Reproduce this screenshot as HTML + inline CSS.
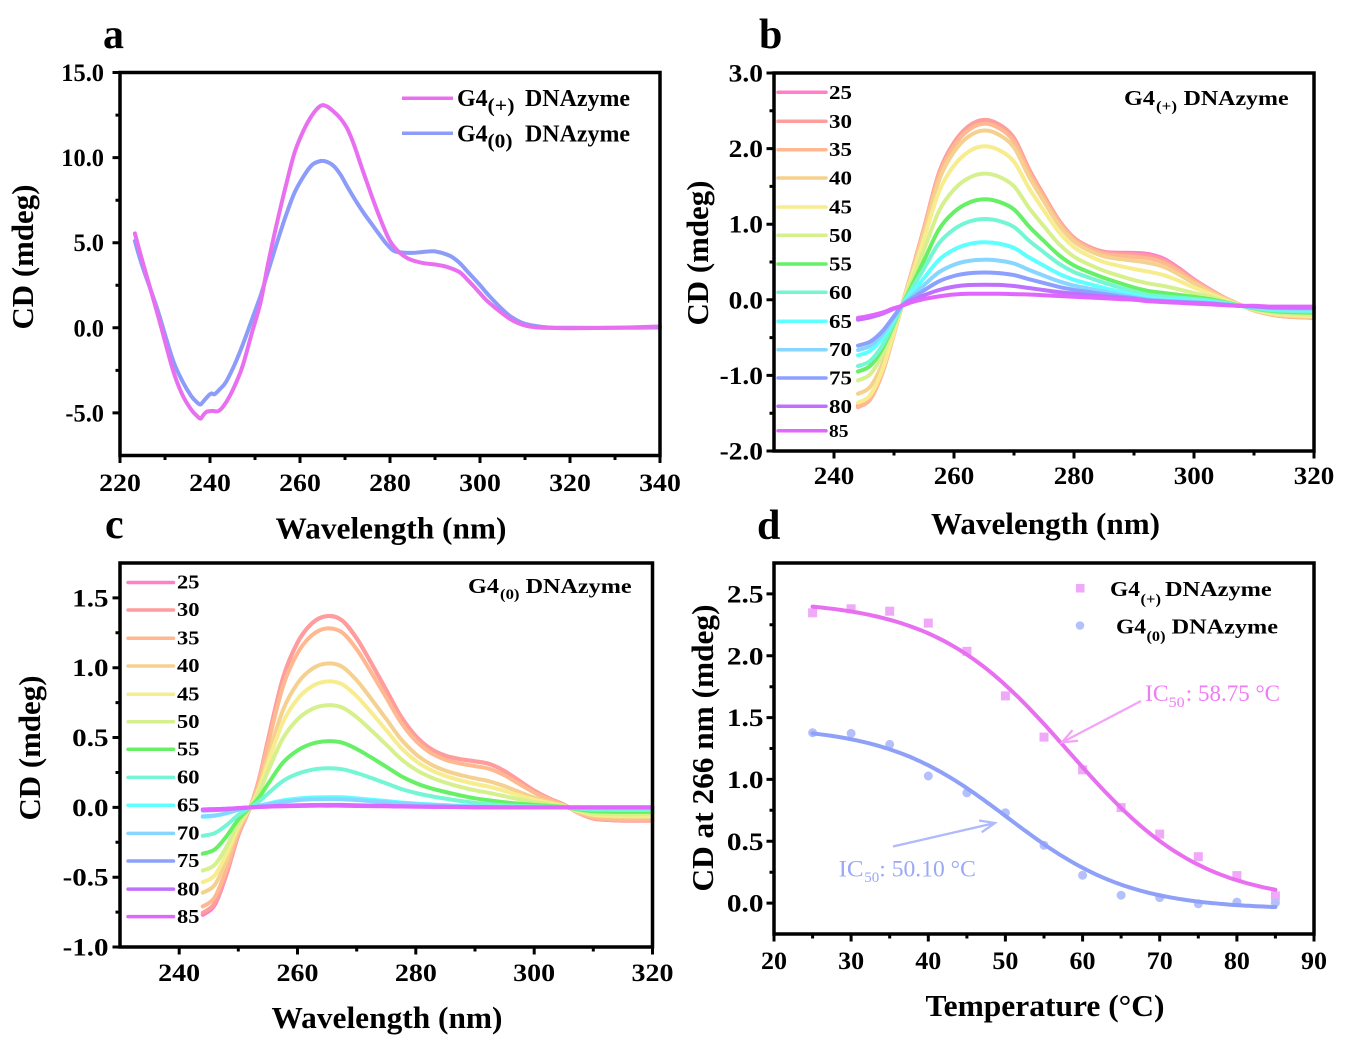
<!DOCTYPE html>
<html><head><meta charset="utf-8">
<style>
html,body{margin:0;padding:0;background:#fff;}
svg{display:block;}
text{font-family:"Liberation Serif","Times New Roman",serif;}
</style></head><body>
<svg id="s" width="1352" height="1039" viewBox="0 0 1352 1039" xmlns="http://www.w3.org/2000/svg">
<rect width="1352" height="1039" fill="#fff"/>
<g id="dyn"></g>
</svg>
<script>
const NS='http://www.w3.org/2000/svg';
const G=document.getElementById('dyn');
function el(tag,attrs,parent){const e=document.createElementNS(NS,tag);for(const k in attrs)e.setAttribute(k,attrs[k]);(parent||G).appendChild(e);return e;}
function txt(x,y,s,o){o=o||{};const a={x:x,y:y,'font-size':o.fs||24,'font-weight':o.w||'bold',fill:o.fill||'#000'};
 if(o.anchor)a['text-anchor']=o.anchor; if(o.tl){a.textLength=o.tl.toFixed(1);a.lengthAdjust='spacingAndGlyphs';}
 if(o.tr)a.transform=o.tr;
 const e=el('text',a);e.textContent=s;return e;}
function spline(pts){let d='M'+pts[0][0].toFixed(1)+','+pts[0][1].toFixed(1);
 for(let i=0;i<pts.length-1;i++){const p0=pts[i-1]||pts[i],p1=pts[i],p2=pts[i+1],p3=pts[i+2]||pts[i+1];
 const c=[p1[0]+(p2[0]-p0[0])/6,p1[1]+(p2[1]-p0[1])/6,p2[0]-(p3[0]-p1[0])/6,p2[1]-(p3[1]-p1[1])/6,p2[0],p2[1]];
 d+='C'+c.map(v=>v.toFixed(1)).join(',');}return d;}
function em(s){let e=0;for(const c of s){e+=c==='.'?0.25:(c==='-'?0.333:0.5);}return e;}
function scales(P){P.sx=v=>P.X0+(v-P.x0)*(P.X1-P.X0)/(P.x1-P.x0);P.sy=v=>P.Y0+(v-P.y0)*(P.Y1-P.Y0)/(P.y1-P.y0);return P;}
function rng(a,b,s){const r=[];for(let v=a;v<=b+1e-9;v+=s)r.push(Math.round(v*1000)/1000);return r;}
function drawAxis(P){
 let d='';
 P.xmaj.forEach(v=>{d+=`M${P.sx(v).toFixed(1)},${P.Y0}v7.5`;});
 P.xmin.forEach(v=>{d+=`M${P.sx(v).toFixed(1)},${P.Y0}v4.5`;});
 P.ymaj.forEach(v=>{d+=`M${P.X0},${P.sy(v).toFixed(1)}h-7.5`;});
 P.ymin.forEach(v=>{d+=`M${P.X0},${P.sy(v).toFixed(1)}h-4.5`;});
 el('path',{d:d,stroke:'#000','stroke-width':3,fill:'none'});
 el('rect',{x:P.X0,y:P.Y1,width:P.X1-P.X0,height:P.Y0-P.Y1,fill:'none',stroke:'#000','stroke-width':3.5});
 P.xmaj.forEach(v=>{const s=P.xf(v);txt(P.sx(v),P.xlabY,s,{fs:25,anchor:'middle',tl:em(s)*P.xem});});
 P.ymaj.forEach(v=>{const s=P.yf(v);txt(P.ylabX,P.sy(v)+8.5,s,{fs:25,anchor:'end',tl:em(s)*P.yem});});
}
function curve(P,pts,col,w){el('path',{d:spline(pts.map(p=>[P.sx(p[0]),P.sy(p[1])])),fill:'none',stroke:col,'stroke-width':w||4,'stroke-linejoin':'round','stroke-linecap':'round'});}

/* ---------- Panel a ---------- */
const A=scales({x0:220,x1:340,X0:120,X1:660,y0:-7.5,y1:15,Y0:455.5,Y1:72.5,
 xmaj:rng(220,340,20),xmin:rng(230,330,20),ymaj:[-5,0,5,10,15],ymin:[-2.5,2.5,7.5,12.5],
 xf:v=>String(v),yf:v=>v.toFixed(1),xlabY:491,ylabX:104,xem:27.8,yem:24.4});
const aPink=[[223.3,5.55],[225,3.9],[228.1,1.05],[230,-0.8],[231.9,-2.6],[233.8,-3.9],[235.8,-4.8],[237.2,-5.2],[237.9,-5.33],[238.6,-5.1],[239.3,-4.92],[240.5,-4.88],[241.8,-4.9],[243,-4.6],[244.4,-4.0],[246,-3.1],[247.3,-2.19],[249.2,-0.4],[251.2,1.46],[253,3.9],[255,6.3],[257,8.5],[258.8,10.3],[260.8,11.6],[262.7,12.5],[264.6,13.05],[266,13.0],[267.5,12.7],[269,12.3],[270.5,11.7],[272,10.75],[274,9.2],[276,7.7],[278,6.3],[280,5.1],[282,4.45],[283.8,4.1],[285.8,3.9],[287.7,3.79],[290,3.72],[292.5,3.59],[295.4,3.28],[297.3,2.8],[299.2,2.27],[301.5,1.6],[304,1.05],[306.5,0.55],[308.8,0.24],[311,0.08],[313.7,0.01],[320,-0.02],[330,0.0],[340,0.08]];
const aBlue=[[223.3,5.1],[225,3.6],[228.1,1.26],[230,-0.4],[231.9,-2.0],[233.8,-3.1],[235.8,-4.0],[237.2,-4.4],[237.9,-4.5],[238.6,-4.3],[239.6,-4.0],[240.3,-3.85],[241,-3.9],[242.2,-3.6],[243.5,-3.2],[245.4,-2.2],[247.3,-0.97],[249.2,0.4],[251.2,1.86],[253,3.4],[255,5.1],[257,6.7],[258.8,7.95],[260.8,8.9],[262.7,9.57],[264.6,9.8],[266,9.75],[267.5,9.5],[269,9.0],[270.4,8.35],[272.3,7.5],[274.2,6.73],[276.2,6.0],[278.1,5.31],[279.5,4.85],[281,4.5],[283,4.42],[284.8,4.4],[287,4.45],[289.6,4.5],[291.5,4.4],[293.5,4.2],[295.5,3.8],[297.3,3.28],[299.7,2.6],[302.1,1.86],[304.5,1.2],[306.9,0.65],[309.3,0.3],[311.7,0.14],[314,0.05],[316.5,0.01],[320,0],[330,0],[340,0.02]];
curve(A,aBlue,'#8c9cf8',4);
curve(A,aPink,'#e870f0',4);
drawAxis(A);
el('line',{x1:402,y1:98.3,x2:453,y2:98.3,stroke:'#e870f0','stroke-width':3.5});
el('line',{x1:402,y1:133.3,x2:453,y2:133.3,stroke:'#8c9cf8','stroke-width':3.5});
txt(457,106,'G4',{fs:24});txt(487.5,112,'(+)',{fs:20,tl:27});txt(525,106,'DNAzyme',{fs:24,tl:105});
txt(457,141.7,'G4',{fs:24});txt(487.5,147.5,'(0)',{fs:20,tl:25});txt(525,141.7,'DNAzyme',{fs:24,tl:105});

/* ---------- colours ---------- */
const cols=['#ff80c8','#ff9c9c','#ffb890','#f5d08e','#f7ec8e','#d6f08e','#66f066','#74f6d4','#5effff','#86d6ff','#8ca0ff','#c070ff','#e066ff'];
const temps=[25,30,35,40,45,50,55,60,65,70,75,80,85];

/* ---------- Panel b ---------- */
const B=scales({x0:230,x1:320,X0:774,X1:1314,y0:-2,y1:3,Y0:451,Y1:73,
 xmaj:rng(240,320,20),xmin:[250,270,290,310],ymaj:[-2,-1,0,1,2,3],ymin:[-1.5,-0.5,0.5,1.5,2.5],
 xf:v=>String(v),yf:v=>v.toFixed(1),xlabY:484,ylabX:763,xem:27,yem:27.4});
const gb=[244,246,248,250,251.3,253,255,257.5,260,262.5,265,267.5,270,272.5,275,277.5,280,282.5,285,287.5,290,292.5,295,297.5,300,302.5,305,307.5,310,312.5,315,317.5,320];
const Fb=[-1.42,-1.32,-0.98,-0.45,-0.08,0.38,0.95,1.68,2.08,2.30,2.38,2.32,2.14,1.73,1.38,1.05,0.82,0.70,0.63,0.61,0.60,0.58,0.52,0.40,0.26,0.14,0.03,-0.06,-0.14,-0.19,-0.22,-0.23,-0.24];
const Ub=[-0.24,-0.21,-0.17,-0.11,-0.08,-0.03,0.01,0.045,0.07,0.08,0.08,0.08,0.075,0.07,0.06,0.05,0.04,0.03,0.02,0.01,0.0,-0.02,-0.03,-0.04,-0.05,-0.06,-0.07,-0.08,-0.08,-0.09,-0.09,-0.09,-0.09];
const kMb=[0.996,1.0,0.978,0.939,0.848,0.691,0.543,0.43,0.296,0.196,0.122,0.052,0];
const kNb=[1.0,0.98,1.0,0.85,0.95,0.70,0.60,0.54,0.42,0.36,0.31,0.02,0];
function spec(g,F,U,kM,kN,kS,cross,As,c0,wd){
 return g.map((l,i)=>{const D=F[i]-U[i];let v;
  if(l<cross)v=U[i]+kN*D;else{const S=As*Math.exp(-Math.pow((l-c0)/wd,2));v=U[i]+kM*(D-S)+kS*S;}
  return [l,v];});}
temps.forEach((t,i)=>{const kS=i===0?1.05:Math.pow(kMb[i],3);
 curve(B,spec(gb,Fb,Ub,kMb[i],kNb[i],kS,251.3,0.5,293,7.5),cols[i],4);});
drawAxis(B);
const rb=[92.3,121.3,149.7,178,207,235.3,264,292.3,321.3,349.7,378,406.3,430.7];
temps.forEach((t,i)=>{el('line',{x1:778,y1:rb[i],x2:826,y2:rb[i],stroke:cols[i],'stroke-width':3.5,'stroke-linecap':'round'});
 if(i<12)txt(829,rb[i]+6.5,String(t),{fs:20,tl:23});else txt(829,rb[i]+6.5,String(t),{fs:18,tl:19.5});});
txt(1124,105,'G4',{fs:21,tl:31});txt(1156,111,'(+)',{fs:15,tl:21});txt(1183.6,105,'DNAzyme',{fs:21,tl:105});

/* ---------- Panel c ---------- */
const C=scales({x0:230,x1:320,X0:120,X1:652.5,y0:-1,y1:1.75,Y0:947,Y1:563,
 xmaj:rng(240,320,20),xmin:[250,270,290,310],ymaj:[-1,-0.5,0,0.5,1,1.5],ymin:[-0.75,-0.25,0.25,0.75,1.25],
 xf:v=>String(v),yf:v=>v.toFixed(1),xlabY:981,ylabX:108.5,xem:28,yem:29});
const gc=[244,246,248,250,252,253.5,255,257.5,260,262.5,265,267.5,270,272.5,275,277.5,280,282.5,285,287.5,290,292.5,295,297.5,300,302.5,305,307.5,310,312.5,315,317.5,320];
const Fc=[-0.77,-0.70,-0.48,-0.20,0.0,0.20,0.48,0.92,1.18,1.32,1.37,1.34,1.21,1.03,0.84,0.65,0.51,0.42,0.37,0.345,0.33,0.31,0.26,0.19,0.12,0.065,0.02,-0.04,-0.08,-0.09,-0.095,-0.095,-0.095];
const Uc=[-0.015,-0.013,-0.01,-0.005,0,0.003,0.005,0.008,0.01,0.012,0.012,0.012,0.01,0.009,0.008,0.006,0.005,0.004,0.003,0.002,0.001,0,0,0,0,0,0,0,0,0,0,0,0];
const kMc=[1.0,1.0,0.935,0.75,0.655,0.53,0.34,0.197,0.045,0.035,0.004,0.002,0];
const kNc=[1.0,0.98,0.92,0.79,0.69,0.58,0.42,0.25,0.07,0.065,0.01,0,0];
temps.forEach((t,i)=>{curve(C,spec(gc,Fc,Uc,kMc[i],kNc[i],Math.pow(kMc[i],2),252,0.25,293,7.5),cols[i],4);});
drawAxis(C);
const rc=[582.5,610,638.2,666,694.2,721.7,749.2,777.4,805.3,833.4,861,889.1,916.6];
temps.forEach((t,i)=>{el('line',{x1:128,y1:rc[i],x2:173.5,y2:rc[i],stroke:cols[i],'stroke-width':3.5,'stroke-linecap':'round'});
 txt(177,rc[i]+6.2,String(t),{fs:20,tl:22.5});});
txt(468,593,'G4',{fs:21,tl:31});txt(500,599,'(0)',{fs:15,tl:19.5});txt(525.6,593,'DNAzyme',{fs:21,tl:106});

/* ---------- Panel d ---------- */
const D=scales({x0:20,x1:90,X0:774,X1:1314,y0:-0.25,y1:2.75,Y0:934,Y1:563,
 xmaj:rng(20,90,10),xmin:rng(25,85,10),ymaj:[0,0.5,1,1.5,2,2.5],ymin:[0.25,0.75,1.25,1.75,2.25],
 xf:v=>String(v),yf:v=>v.toFixed(1),xlabY:969,ylabX:763.5,xem:26,yem:29.3});
const sq=[[25,2.347],[30,2.38],[35,2.36],[40,2.264],[45,2.036],[50,1.675],[55,1.342],[60,1.078],[65,0.772],[70,0.558],[75,0.375],[80,0.222],[85,0.058]];
const ci=[[25,1.378],[30,1.372],[35,1.283],[40,1.028],[45,0.892],[50,0.731],[55,0.467],[60,0.225],[65,0.064],[70,0.044],[75,-0.006],[80,0.008],[85,0.003]];
sq.forEach(p=>el('rect',{x:(D.sx(p[0])-4.5).toFixed(1),y:(D.sy(p[1])-4.5).toFixed(1),width:9,height:9,fill:'#f0a8f8'}));
ci.forEach(p=>el('circle',{cx:D.sx(p[0]).toFixed(1),cy:D.sy(p[1]).toFixed(1),r:4.5,fill:'#b4c0fc'}));
const pf=[],bf=[];
for(let T=25;T<=85.001;T+=1){pf.push([T,2.45/(1+Math.exp((T-58.2)/8.7))]);bf.push([T,-0.05+1.48/(1+Math.exp((T-50.3)/7.9))]);}
curve(D,bf,'#8ea0f8',4);
curve(D,pf,'#e870f0',4);
drawAxis(D);
el('rect',{x:1076,y:584,width:8.5,height:8.5,fill:'#f0a8f8'});
el('circle',{cx:1080,cy:625.5,r:4.3,fill:'#b4c0fc'});
txt(1110,596,'G4',{fs:21,tl:30});txt(1140.5,604,'(+)',{fs:15,tl:20.5});txt(1165,596,'DNAzyme',{fs:21,tl:106.7});
txt(1116,633.3,'G4',{fs:21,tl:30});txt(1146.5,641,'(0)',{fs:15,tl:19});txt(1171.7,633.3,'DNAzyme',{fs:21,tl:106.3});
function arrow(x1,y1,x2,y2,col){el('line',{x1:x1,y1:y1,x2:x2,y2:y2,stroke:col,'stroke-width':2.2});
 const dx=x2-x1,dy=y2-y1,L=Math.hypot(dx,dy),ux=dx/L,uy=dy/L,px=-uy,py=ux,h=15,w=6;
 el('polyline',{points:`${x2-h*ux+w*px},${y2-h*uy+w*py} ${x2},${y2} ${x2-h*ux-w*px},${y2-h*uy-w*py}`,fill:'none',stroke:col,'stroke-width':2.2,'stroke-linejoin':'miter'});}
arrow(1141,701,1062,742.4,'#f2a4f8');
arrow(893,846.5,995,823,'#aebafc');
txt(1145,701,'IC',{fs:23,w:'normal',fill:'#f07cf5',tl:23.6});txt(1168.6,707,'50',{fs:15,w:'normal',fill:'#f07cf5',tl:16});txt(1185.8,701,': 58.75 °C',{fs:23,w:'normal',fill:'#f07cf5',tl:94.2});
txt(838.6,876.4,'IC',{fs:23,w:'normal',fill:'#9aa8f8',tl:25});txt(864.3,882,'50',{fs:15,w:'normal',fill:'#9aa8f8',tl:15});txt(879.3,876.4,': 50.10 °C',{fs:23,w:'normal',fill:'#9aa8f8',tl:96.5});

/* ---------- titles & panel letters ---------- */
txt(103,48,'a',{fs:42});txt(759,48,'b',{fs:42});txt(105,538,'c',{fs:42});txt(757,539,'d',{fs:42});
txt(391,538.5,'Wavelength (nm)',{fs:31,anchor:'middle',tl:231});
txt(1045.5,534,'Wavelength (nm)',{fs:31,anchor:'middle',tl:229});
txt(387,1028,'Wavelength (nm)',{fs:31,anchor:'middle',tl:231});
txt(1045,1016,'Temperature (°C)',{fs:31,anchor:'middle',tl:239});
txt(0,0,'CD (mdeg)',{fs:31,anchor:'middle',tl:145,tr:'translate(33,257) rotate(-90)'});
txt(0,0,'CD (mdeg)',{fs:31,anchor:'middle',tl:145,tr:'translate(708,253) rotate(-90)'});
txt(0,0,'CD (mdeg)',{fs:31,anchor:'middle',tl:145,tr:'translate(40,748) rotate(-90)'});
txt(0,0,'CD at 266 nm (mdeg)',{fs:31,anchor:'middle',tl:287,tr:'translate(713,748) rotate(-90)'});
</script>
</body></html>
